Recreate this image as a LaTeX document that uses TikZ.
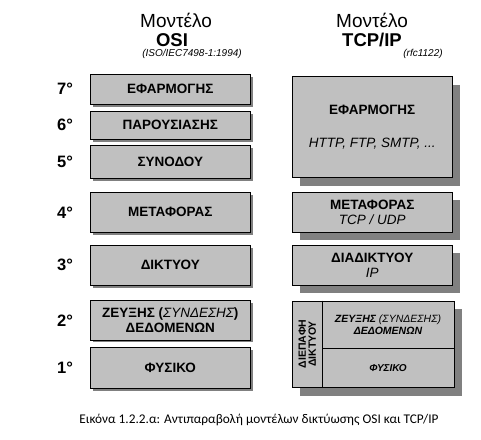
\documentclass[tikz,border=0pt]{standalone}
\usepackage{fontspec}
\setmainfont{Liberation Sans}
\newfontfamily\captionfont{Carlito}
\usetikzlibrary{shadows}
\definecolor{layerfill}{RGB}{192,192,192}
\definecolor{layershade}{RGB}{128,128,128}

\begin{document}
\begin{tikzpicture}[x=1pt,y=-1pt,
    layer/.style={draw=black, line width=0.8pt, fill=layerfill, inner sep=0pt,
        align=center, font=\bfseries\fontsize{13.5}{15}\selectfont},
    osi/.style={layer, minimum width=160.5pt,
        drop shadow={shadow xshift=2.5pt, shadow yshift=-2.5pt, fill=layershade, opacity=1}},
    tcp/.style={layer, minimum width=159.7pt,
        drop shadow={shadow xshift=8pt, shadow yshift=-8pt, fill=layershade, opacity=1}},
    num/.style={font=\bfseries\fontsize{16.5}{18}\selectfont},
    title/.style={font=\fontsize{19}{21}\selectfont},
    model/.style={font=\bfseries\fontsize{18.5}{21}\selectfont},
    note/.style={font=\itshape\fontsize{10}{12}\selectfont}]
        \fill[white] (0,0) rectangle (481,439);
        \useasboundingbox (0,0) rectangle (481,439);
        % titles
        \node[title] (osiname) at (176,20) {Μοντέλο};
        \node[model] (osititle) at (172,40) {OSI};
        \node[note] (osiref) at (192,54) {(ISO/IEC7498-1:1994)};
        \node[title] (tcpname) at (372,20) {Μοντέλο};
        \node[model] (tcptitle) at (372,40) {TCP/IP};
        \node[note] (tcpref) at (423,54) {(rfc1122)};
        % OSI layers
        \foreach \n/\yc/\h/\txt in {7/89.2/30.3/ΕΦΑΡΜΟΓΗΣ, 6/125.2/28.3/ΠΑΡΟΥΣΙΑΣΗΣ,
                5/161.8/33/ΣΥΝΟΔΟΥ, 4/212.3/40/ΜΕΤΑΦΟΡΑΣ, 3/265/40/ΔΙΚΤΥΟΥ,
                2/320.3/39.3/{ΖΕΥΞΗΣ ({\mdseries\itshape ΣΥΝΔΕΣΗΣ})\\ΔΕΔΟΜΕΝΩΝ},
                1/368/40.6/ΦΥΣΙΚΟ} {
            \node[osi, minimum height=\h pt] (osi\n) at (170.3,\yc) {\txt};
            \node[num] (num\n) at (65,\yc) {\n°};
        }
        % TCP/IP layers
        \node[tcp, minimum height=101pt] (app) at (372.2,127.2)
            {ΕΦΑΡΜΟΓΗΣ\\[18pt]{\mdseries\itshape HTTP, FTP, SMTP, ...}};
        \node[tcp, minimum height=40pt] (transport) at (372.2,212.3)
            {ΜΕΤΑΦΟΡΑΣ\\{\mdseries\itshape TCP / UDP}};
        \node[tcp, minimum height=40pt] (internet) at (372.2,265)
            {ΔΙΑΔΙΚΤΥΟΥ\\{\mdseries\itshape IP}};
        \node[tcp, minimum width=161.7pt, minimum height=86.7pt] (netif) at (373.15,344.35) {};
        \coordinate (split) at (322.3,348.3);
        \draw[line width=0.8pt] (netif.north -| split) -- (netif.south -| split);
        \draw[line width=0.8pt] (split) -- (split -| netif.east);
        \node[rotate=90, align=center, font=\bfseries\fontsize{10.5}{10}\selectfont] (ifname)
            at (307.3,344) {ΔΙΕΠΑΦΗ\\ΔΙΚΤΥΟΥ};
        \node[align=center, font=\bfseries\itshape\fontsize{10.5}{12}\selectfont] (link)
            at (388,324.7) {ΖΕΥΞΗΣ {\mdseries(ΣΥΝΔΕΣΗΣ)}\\ΔΕΔΟΜΕΝΩΝ};
        \node[font=\bfseries\itshape\fontsize{10}{12}\selectfont] (phys) at (388,368) {ΦΥΣΙΚΟ};
        % caption
        \node[font=\captionfont\fontsize{13.3}{15}\selectfont] (caption) at (259,420)
            {Εικόνα 1.2.2.α: Αντιπαραβολή μοντέλων δικτύωσης OSI και TCP/IP};
    \end{tikzpicture}
\end{document}
